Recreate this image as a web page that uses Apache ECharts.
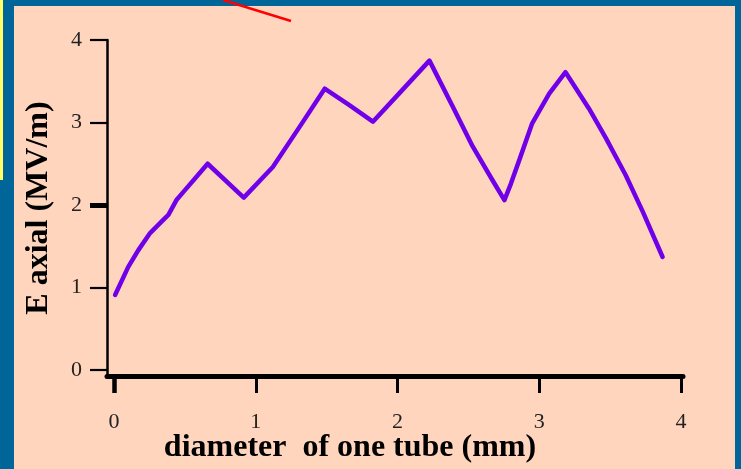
<!DOCTYPE html>
<html><head><meta charset="utf-8">
<script src="https://cdn.jsdelivr.net/npm/echarts@6/dist/echarts.min.js"></script>
<style>
html,body{margin:0;padding:0;width:741px;height:469px;overflow:hidden;background:#006699;}
#yellow{position:absolute;left:0;top:0;width:3px;height:180px;background:#ffff66;}
#panel{position:absolute;left:14px;top:6px;width:721px;height:463px;background:#ffd5be;}
#chart{position:absolute;left:0;top:0;width:741px;height:469px;}
</style></head>
<body>
<div id="yellow"></div><div id="panel"></div><div id="chart"></div>
<script>
const diameter = [0.007, 0.10, 0.17, 0.254, 0.347, 0.383, 0.44, 0.50, 0.58, 0.66, 0.915, 1.12, 1.31, 1.486, 1.66, 1.826, 2.01, 2.225, 2.39, 2.53, 2.67, 2.754, 2.80, 2.86, 2.95, 3.07, 3.185, 3.35, 3.47, 3.61, 3.73, 3.87];
const eAxial  = [0.91, 1.25, 1.45, 1.66, 1.82, 1.88, 2.06, 2.18, 2.34, 2.50, 2.09, 2.46, 2.95, 3.41, 3.21, 3.01, 3.35, 3.75, 3.19, 2.71, 2.30, 2.06, 2.26, 2.55, 2.99, 3.35, 3.61, 3.17, 2.81, 2.36, 1.92, 1.37];
const xTicks = [0, 1, 2, 3, 4];
const yTicks = [0, 1, 2, 3, 4];
const xBoldTicks = [0];
const yBoldTicks = [2];
const xTitle = 'diameter  of one tube (mm)';
const yTitle = 'E axial (MV/m)';

const chart = echarts.init(document.getElementById('chart'), null, {renderer:'canvas'});
const serif = '"Liberation Serif", "Times New Roman", serif';
const xRange = {min: -0.05, max: 4.014};
const yRange = {min: -0.0727, max: 4};
chart.setOption({
  backgroundColor: 'transparent',
  animation: false,
  grid: {left: 107, right: 58, top: 40, bottom: 93, outerBoundsMode: 'none', containLabel: false},
  graphic: [{type:'line', shape:{x1:223, y1:0, x2:291, y2:21}, style:{stroke:'#ff0000', lineWidth:2.5}}],
  xAxis: [{
    type: 'value', ...xRange,
    splitLine: {show:false},
    axisLine: {onZero:false, lineStyle:{color:'#000', width:5}},
    axisTick: {show:true, customValues: xTicks, length:17, lineStyle:{color:'#000', width:3}},
    axisLabel: {customValues: xTicks, margin: 35, fontFamily: serif, fontSize: 22, color:'#222'},
    name: xTitle, nameLocation: 'middle', nameGap: 56, nameMoveOverlap: false,
    nameTextStyle: {fontFamily: serif, fontSize: 32, fontWeight: 'bold', color:'#000', padding:[0, 90, 0, 0]}
  }, {
    type: 'value', ...xRange, position: 'bottom',
    splitLine: {show:false},
    axisLine: {show:false, onZero:false},
    axisTick: {show:true, customValues: xBoldTicks, length:17, lineStyle:{color:'#000', width:4.5}},
    axisLabel: {show:false}
  }],
  yAxis: [{
    type: 'value', ...yRange,
    splitLine: {show:false},
    axisLine: {onZero:false, lineStyle:{color:'#000', width:2.5}},
    axisTick: {show:true, customValues: yTicks, length:17, lineStyle:{color:'#000', width:2.2}},
    axisLabel: {customValues: yTicks, margin: 25, fontFamily: serif, fontSize: 22, color:'#222'},
    name: yTitle, nameLocation: 'middle', nameGap: 52, nameMoveOverlap: false,
    nameTextStyle: {fontFamily: serif, fontSize: 32, fontWeight: 'bold', color:'#000'}
  }, {
    type: 'value', ...yRange, position: 'left',
    splitLine: {show:false},
    axisLine: {show:false, onZero:false},
    axisTick: {show:true, customValues: yBoldTicks, length:17, lineStyle:{color:'#000', width:5}},
    axisLabel: {show:false}
  }],
  series: [{
    type: 'line', data: diameter.map((d,i)=>[d, eAxial[i]]),
    showSymbol: false, smooth: false,
    lineStyle: {color:'#7000e8', width:4.5, cap:'round', join:'round'}
  }]
});
</script>
</body></html>
